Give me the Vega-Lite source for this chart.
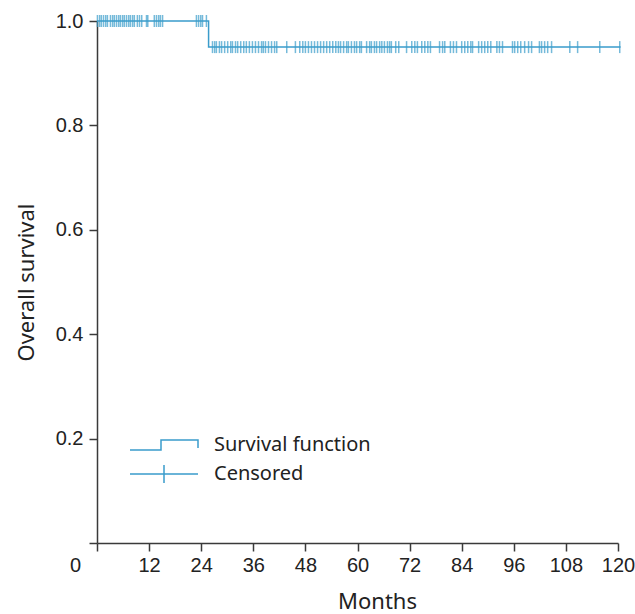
{
  "$schema": "https://vega.github.io/schema/vega-lite/v6.json",
  "width": 521,
  "height": 522,
  "autosize": "none",
  "padding": {"left": 97, "top": 21, "right": 17, "bottom": 71},
  "background": "white",
  "config": {
    "view": {"stroke": null},
    "axis": {"grid": false, "domainColor": "#3a3a3a", "tickColor": "#3a3a3a", "domainWidth": 1.5, "tickWidth": 1.5, "labelColor": "#222", "titleColor": "#222", "labelFont": "Liberation Sans", "labelFontSize": 20, "titleFont": "Noto Sans", "titleFontSize": 22, "titleFontWeight": "normal", "tickSize": 8}
  },
  "datasets": {
    "curve": [
      {"month": 0, "surv": 1.0, "type": "Survival function"},
      {"month": 25.7, "surv": 0.95, "type": "Survival function"},
      {"month": 120.6, "surv": 0.95, "type": "Survival function"}
    ],
    "censored": [
      {"month": 0.1, "surv": 1.0, "type": "Censored"},
      {"month": 0.6, "surv": 1.0, "type": "Censored"},
      {"month": 1.0, "surv": 1.0, "type": "Censored"},
      {"month": 1.5, "surv": 1.0, "type": "Censored"},
      {"month": 2.0, "surv": 1.0, "type": "Censored"},
      {"month": 2.4, "surv": 1.0, "type": "Censored"},
      {"month": 3.1, "surv": 1.0, "type": "Censored"},
      {"month": 3.6, "surv": 1.0, "type": "Censored"},
      {"month": 4.0, "surv": 1.0, "type": "Censored"},
      {"month": 4.5, "surv": 1.0, "type": "Censored"},
      {"month": 5.0, "surv": 1.0, "type": "Censored"},
      {"month": 5.4, "surv": 1.0, "type": "Censored"},
      {"month": 5.9, "surv": 1.0, "type": "Censored"},
      {"month": 6.3, "surv": 1.0, "type": "Censored"},
      {"month": 6.8, "surv": 1.0, "type": "Censored"},
      {"month": 7.3, "surv": 1.0, "type": "Censored"},
      {"month": 7.7, "surv": 1.0, "type": "Censored"},
      {"month": 8.2, "surv": 1.0, "type": "Censored"},
      {"month": 8.6, "surv": 1.0, "type": "Censored"},
      {"month": 9.3, "surv": 1.0, "type": "Censored"},
      {"month": 9.8, "surv": 1.0, "type": "Censored"},
      {"month": 10.3, "surv": 1.0, "type": "Censored"},
      {"month": 11.4, "surv": 1.0, "type": "Censored"},
      {"month": 11.7, "surv": 1.0, "type": "Censored"},
      {"month": 13.2, "surv": 1.0, "type": "Censored"},
      {"month": 13.7, "surv": 1.0, "type": "Censored"},
      {"month": 14.2, "surv": 1.0, "type": "Censored"},
      {"month": 14.6, "surv": 1.0, "type": "Censored"},
      {"month": 15.1, "surv": 1.0, "type": "Censored"},
      {"month": 22.9, "surv": 1.0, "type": "Censored"},
      {"month": 23.4, "surv": 1.0, "type": "Censored"},
      {"month": 23.9, "surv": 1.0, "type": "Censored"},
      {"month": 24.3, "surv": 1.0, "type": "Censored"},
      {"month": 25.2, "surv": 1.0, "type": "Censored"},
      {"month": 26.6, "surv": 0.95, "type": "Censored"},
      {"month": 27.1, "surv": 0.95, "type": "Censored"},
      {"month": 27.5, "surv": 0.95, "type": "Censored"},
      {"month": 28.2, "surv": 0.95, "type": "Censored"},
      {"month": 28.7, "surv": 0.95, "type": "Censored"},
      {"month": 29.4, "surv": 0.95, "type": "Censored"},
      {"month": 30.1, "surv": 0.95, "type": "Censored"},
      {"month": 30.8, "surv": 0.95, "type": "Censored"},
      {"month": 31.2, "surv": 0.95, "type": "Censored"},
      {"month": 31.9, "surv": 0.95, "type": "Censored"},
      {"month": 32.4, "surv": 0.95, "type": "Censored"},
      {"month": 33.1, "surv": 0.95, "type": "Censored"},
      {"month": 33.8, "surv": 0.95, "type": "Censored"},
      {"month": 34.4, "surv": 0.95, "type": "Censored"},
      {"month": 35.1, "surv": 0.95, "type": "Censored"},
      {"month": 35.8, "surv": 0.95, "type": "Censored"},
      {"month": 36.5, "surv": 0.95, "type": "Censored"},
      {"month": 37.2, "surv": 0.95, "type": "Censored"},
      {"month": 37.9, "surv": 0.95, "type": "Censored"},
      {"month": 38.3, "surv": 0.95, "type": "Censored"},
      {"month": 38.8, "surv": 0.95, "type": "Censored"},
      {"month": 39.5, "surv": 0.95, "type": "Censored"},
      {"month": 40.2, "surv": 0.95, "type": "Censored"},
      {"month": 40.9, "surv": 0.95, "type": "Censored"},
      {"month": 41.4, "surv": 0.95, "type": "Censored"},
      {"month": 43.7, "surv": 0.95, "type": "Censored"},
      {"month": 45.7, "surv": 0.95, "type": "Censored"},
      {"month": 46.7, "surv": 0.95, "type": "Censored"},
      {"month": 47.4, "surv": 0.95, "type": "Censored"},
      {"month": 48.0, "surv": 0.95, "type": "Censored"},
      {"month": 48.7, "surv": 0.95, "type": "Censored"},
      {"month": 49.4, "surv": 0.95, "type": "Censored"},
      {"month": 50.1, "surv": 0.95, "type": "Censored"},
      {"month": 50.8, "surv": 0.95, "type": "Censored"},
      {"month": 51.5, "surv": 0.95, "type": "Censored"},
      {"month": 52.2, "surv": 0.95, "type": "Censored"},
      {"month": 52.9, "surv": 0.95, "type": "Censored"},
      {"month": 53.6, "surv": 0.95, "type": "Censored"},
      {"month": 54.3, "surv": 0.95, "type": "Censored"},
      {"month": 55.0, "surv": 0.95, "type": "Censored"},
      {"month": 55.6, "surv": 0.95, "type": "Censored"},
      {"month": 56.1, "surv": 0.95, "type": "Censored"},
      {"month": 56.8, "surv": 0.95, "type": "Censored"},
      {"month": 57.5, "surv": 0.95, "type": "Censored"},
      {"month": 57.9, "surv": 0.95, "type": "Censored"},
      {"month": 58.6, "surv": 0.95, "type": "Censored"},
      {"month": 59.3, "surv": 0.95, "type": "Censored"},
      {"month": 59.8, "surv": 0.95, "type": "Censored"},
      {"month": 60.5, "surv": 0.95, "type": "Censored"},
      {"month": 60.9, "surv": 0.95, "type": "Censored"},
      {"month": 62.1, "surv": 0.95, "type": "Censored"},
      {"month": 62.8, "surv": 0.95, "type": "Censored"},
      {"month": 63.2, "surv": 0.95, "type": "Censored"},
      {"month": 63.9, "surv": 0.95, "type": "Censored"},
      {"month": 64.4, "surv": 0.95, "type": "Censored"},
      {"month": 65.1, "surv": 0.95, "type": "Censored"},
      {"month": 65.6, "surv": 0.95, "type": "Censored"},
      {"month": 66.2, "surv": 0.95, "type": "Censored"},
      {"month": 66.9, "surv": 0.95, "type": "Censored"},
      {"month": 67.4, "surv": 0.95, "type": "Censored"},
      {"month": 67.8, "surv": 0.95, "type": "Censored"},
      {"month": 68.8, "surv": 0.95, "type": "Censored"},
      {"month": 69.5, "surv": 0.95, "type": "Censored"},
      {"month": 71.3, "surv": 0.95, "type": "Censored"},
      {"month": 72.5, "surv": 0.95, "type": "Censored"},
      {"month": 73.2, "surv": 0.95, "type": "Censored"},
      {"month": 73.8, "surv": 0.95, "type": "Censored"},
      {"month": 74.8, "surv": 0.95, "type": "Censored"},
      {"month": 75.5, "surv": 0.95, "type": "Censored"},
      {"month": 76.2, "surv": 0.95, "type": "Censored"},
      {"month": 76.8, "surv": 0.95, "type": "Censored"},
      {"month": 78.9, "surv": 0.95, "type": "Censored"},
      {"month": 79.6, "surv": 0.95, "type": "Censored"},
      {"month": 80.1, "surv": 0.95, "type": "Censored"},
      {"month": 81.4, "surv": 0.95, "type": "Censored"},
      {"month": 82.1, "surv": 0.95, "type": "Censored"},
      {"month": 82.8, "surv": 0.95, "type": "Censored"},
      {"month": 84.0, "surv": 0.95, "type": "Censored"},
      {"month": 84.7, "surv": 0.95, "type": "Censored"},
      {"month": 85.4, "surv": 0.95, "type": "Censored"},
      {"month": 86.1, "surv": 0.95, "type": "Censored"},
      {"month": 86.5, "surv": 0.95, "type": "Censored"},
      {"month": 87.9, "surv": 0.95, "type": "Censored"},
      {"month": 88.6, "surv": 0.95, "type": "Censored"},
      {"month": 89.3, "surv": 0.95, "type": "Censored"},
      {"month": 90.0, "surv": 0.95, "type": "Censored"},
      {"month": 90.7, "surv": 0.95, "type": "Censored"},
      {"month": 92.1, "surv": 0.95, "type": "Censored"},
      {"month": 92.7, "surv": 0.95, "type": "Censored"},
      {"month": 93.4, "surv": 0.95, "type": "Censored"},
      {"month": 95.7, "surv": 0.95, "type": "Censored"},
      {"month": 96.2, "surv": 0.95, "type": "Censored"},
      {"month": 96.9, "surv": 0.95, "type": "Censored"},
      {"month": 97.6, "surv": 0.95, "type": "Censored"},
      {"month": 98.5, "surv": 0.95, "type": "Censored"},
      {"month": 99.4, "surv": 0.95, "type": "Censored"},
      {"month": 100.1, "surv": 0.95, "type": "Censored"},
      {"month": 101.9, "surv": 0.95, "type": "Censored"},
      {"month": 102.4, "surv": 0.95, "type": "Censored"},
      {"month": 103.1, "surv": 0.95, "type": "Censored"},
      {"month": 103.8, "surv": 0.95, "type": "Censored"},
      {"month": 104.7, "surv": 0.95, "type": "Censored"},
      {"month": 108.9, "surv": 0.95, "type": "Censored"},
      {"month": 110.7, "surv": 0.95, "type": "Censored"},
      {"month": 115.8, "surv": 0.95, "type": "Censored"},
      {"month": 120.4, "surv": 0.95, "type": "Censored"}
    ]
  },
  "encoding": {
    "x": {
      "field": "month", "type": "quantitative",
      "scale": {"domain": [0, 120], "nice": false, "zero": false},
      "axis": {
        "title": "Months", "values": [0, 12, 24, 36, 48, 60, 72, 84, 96, 108, 120],
        "labelFlush": false, "labelOverlap": false, "labelPadding": 4, "titlePadding": 16, "titleX": 280,
        "labelOffset": {"condition": {"test": "datum.value === 0", "value": -22}, "value": 0}
      }
    },
    "y": {
      "field": "surv", "type": "quantitative",
      "scale": {"domain": [0, 1], "nice": false},
      "axis": {
        "title": "Overall survival", "values": [0, 0.2, 0.4, 0.6, 0.8, 1.0],
        "labelExpr": "datum.value === 0 ? '' : format(datum.value, '.1f')",
        "labelPadding": 6, "titlePadding": 17, "labelOverlap": false
      }
    },
    "color": {
      "field": "type", "type": "nominal",
      "scale": {"domain": ["Survival function", "Censored"], "range": ["#3a9ccb", "#3a9ccb"]},
      "legend": {
        "title": null, "orient": "none", "legendX": 56, "legendY": 413,
        "padding": 0, "symbolSize": 400, "labelOffset": 39, "rowPadding": 7,
        "labelFont": "Noto Sans", "labelFontSize": 20, "labelColor": "#222",
        "symbolStrokeWidth": 1.5, "symbolFillColor": "transparent",
        "encode": {"symbols": {"update": {
          "shape": {"signal": "datum.value === 'Censored' ? 'M-3.4,0H3.4M0,-0.9V0.9' : 'M-3.4,0.5H-0.3V-0.5H3.4V0.3'"},
          "fillOpacity": {"value": 0},
          "stroke": {"value": "#3a9ccb"},
          "strokeWidth": {"value": 1.5}
        }}}
      }
    }
  },
  "layer": [
    {
      "data": {"name": "curve"},
      "mark": {"type": "line", "interpolate": "step-after", "strokeWidth": 1.5, "clip": false}
    },
    {
      "data": {"name": "censored"},
      "mark": {"type": "tick", "orient": "vertical", "size": 12, "thickness": 1.5, "clip": false}
    }
  ]
}
